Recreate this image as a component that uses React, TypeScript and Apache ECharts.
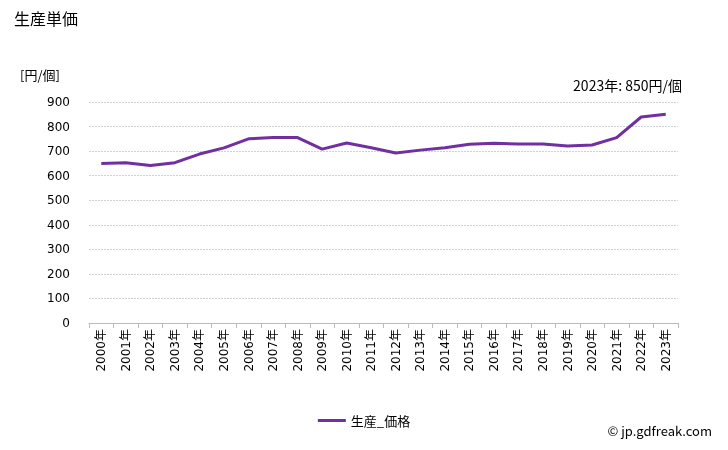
import React, { useEffect, useRef } from "react";
import * as echarts from "echarts";

const years = ["2000年","2001年","2002年","2003年","2004年","2005年","2006年","2007年","2008年","2009年","2010年","2011年","2012年","2013年","2014年","2015年","2016年","2017年","2018年","2019年","2020年","2021年","2022年","2023年"];
const prices = [650, 653, 641, 653, 688, 713, 750, 755, 755, 708, 733, 714, 692, 704, 714, 728, 732, 729, 729, 721, 725, 755, 839, 850];
const seriesName = "生産_価格";
const titleText = "生産単価";
const unitText = "[円/個]";
const noteText = "2023年: 850円/個";
const creditText = "© jp.gdfreak.com";

const FONT = "'Noto Sans CJK JP', 'Noto Sans', sans-serif";
const LABEL_FONT = "'DejaVu Sans', 'Noto Sans CJK JP', sans-serif";

export default function App() {
  const ref = useRef<HTMLDivElement>(null);
  useEffect(() => {
    if (!ref.current) return;
    const chart = echarts.init(ref.current, null, { renderer: "svg" });
    chart.setOption({
      animation: false,
      textStyle: { fontFamily: FONT },
      title: {
        text: titleText,
        left: 9,
        top: 5,
        textStyle: { fontSize: 16, fontWeight: "normal", color: "#000", fontFamily: FONT },
      },
      graphic: [
        { type: "text", left: 20, top: 68, style: { text: unitText, fontSize: 13, fill: "#000", fontFamily: FONT } },
        { type: "text", right: 46, top: 78, style: { text: noteText, fontSize: 14, fill: "#000", fontFamily: FONT } },
        { type: "text", right: 16, top: 424, style: { text: creditText, fontSize: 13, fill: "#000", fontFamily: FONT } },
      ],
      legend: {
        data: [seriesName],
        left: "center",
        top: 409,
        itemWidth: 28,
        itemHeight: 3,
        icon: "rect",
        itemGap: 4,
        textStyle: { fontSize: 13, color: "#000", fontFamily: FONT },
      },
      grid: { left: 89, right: 50, top: 102, bottom: 127, containLabel: false },
      xAxis: {
        type: "category",
        data: years,
        boundaryGap: true,
        axisLine: { show: true, lineStyle: { color: "#bbb" } },
        axisTick: { show: true, lineStyle: { color: "#bbb" }, length: 5 },
        axisLabel: { rotate: 90, fontSize: 12, color: "#000", margin: 6, interval: 0, fontFamily: LABEL_FONT },
        splitLine: { show: false },
      },
      yAxis: {
        type: "value",
        min: 0,
        max: 900,
        interval: 100,
        axisLine: { show: false },
        axisTick: { show: false },
        axisLabel: { fontSize: 12, color: "#000", margin: 19, fontFamily: LABEL_FONT },
        splitLine: { show: true, lineStyle: { color: "#d0d0d0", type: [2, 1], width: 1 } },
      },
      series: [
        {
          name: seriesName,
          type: "line",
          data: prices,
          symbol: "none",
          lineStyle: { color: "#7030a0", width: 3 },
          itemStyle: { color: "#7030a0" },
        },
      ],
    });
    return () => chart.dispose();
  }, []);
  return <div ref={ref} style={{ position: "fixed", left: 0, top: 0, width: 728, height: 450 }} />;
}
